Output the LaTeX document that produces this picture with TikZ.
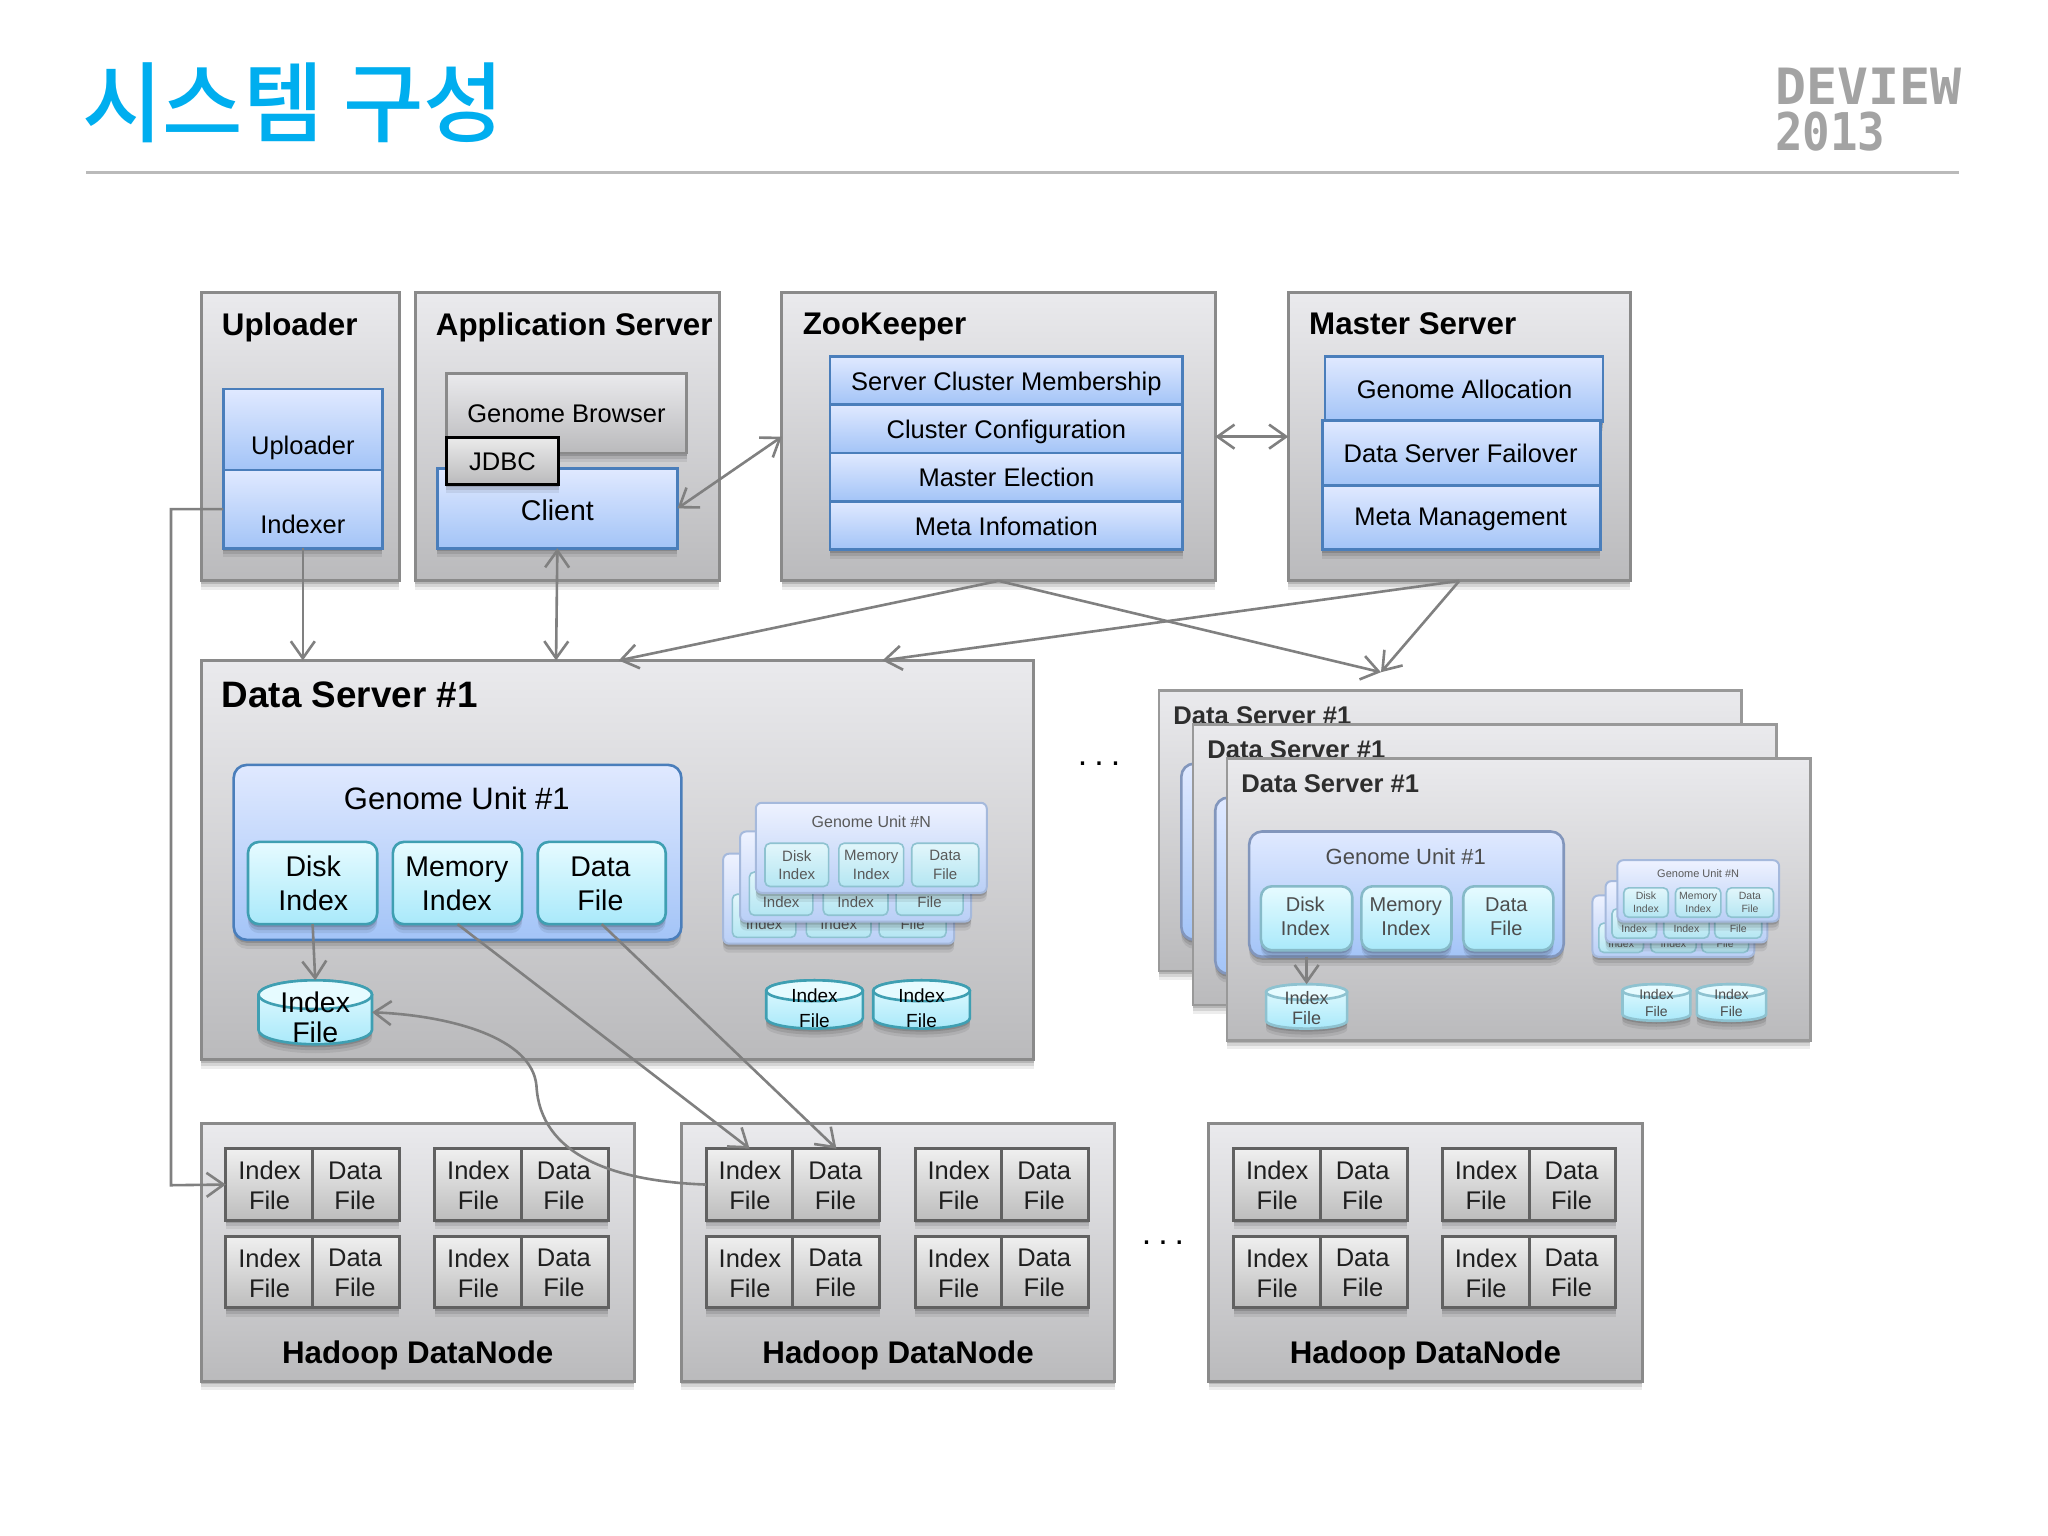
\documentclass[tikz,border=0pt]{standalone}
\usepackage{fontspec}
\usepackage{graphicx}
\setmainfont{Liberation Sans}
\newfontfamily\krfont{Noto Sans CJK KR Medium}
\newfontfamily\monofnt{DejaVu Sans Mono}
\usetikzlibrary{shadows,arrows.meta,calc}
\definecolor{bigTop}{HTML}{EAEAED}
\definecolor{bigBot}{HTML}{BABABC}
\definecolor{bigEdge}{HTML}{8A8A8A}
\definecolor{blueTop}{HTML}{E0E9FF}
\definecolor{blueBot}{HTML}{A3C4F7}
\definecolor{blueEdge}{HTML}{4A7EBB}
\definecolor{cyanTop}{HTML}{E6FBFF}
\definecolor{cyanBot}{HTML}{A9E9FA}
\definecolor{cyanEdge}{HTML}{3F9FB2}
\definecolor{paleTop}{HTML}{EEF2FF}
\definecolor{paleBot}{HTML}{B9CFF6}
\definecolor{paleEdge}{HTML}{A5B9DC}
\definecolor{paleCTop}{HTML}{E2F6FB}
\definecolor{paleCBot}{HTML}{B4E6F2}
\definecolor{paleCEdge}{HTML}{8EC2D0}
\definecolor{titleBlue}{HTML}{00AEEF}
\definecolor{farBlueEdge}{HTML}{8296BC}
\definecolor{farCyanEdge}{HTML}{86BAC8}
\colorlet{cylEdge}{cyanEdge}
\tikzset{
  x=1.3053pt,y=-1.3053pt,
  every node/.style={inner sep=0pt,outer sep=0pt},
  shad/.style={
    drop shadow={shadow xshift=0pt,shadow yshift=-9pt,opacity=.07,fill=black},
    drop shadow={shadow xshift=0pt,shadow yshift=-6pt,opacity=.10,fill=black},
    drop shadow={shadow xshift=0pt,shadow yshift=-3pt,opacity=.14,fill=black}},
  bigbox/.style={rectangle,draw=bigEdge,line width=3pt,top color=bigTop,bottom color=bigBot,shad},
  farbig/.style={bigbox,draw=black!40,line width=2.6pt},
  bluebox/.style={rectangle,draw=blueEdge,line width=2.6pt,top color=blueTop,bottom color=blueBot,shad},
  blueround/.style={bluebox,rounded corners=13pt},
  farround/.style={blueround,draw=farBlueEdge},
  cyanbox/.style={rectangle,rounded corners=11pt,draw=cyanEdge,line width=2.6pt,top color=cyanTop,bottom color=cyanBot,shad},
  farcyan/.style={cyanbox,draw=farCyanEdge},
  graybox/.style={rectangle,draw=bigEdge,line width=2.6pt,top color=bigTop,bottom color=bigBot,shad},
  jdbcbox/.style={rectangle,draw=black,line width=2.6pt,top color=white!92!black,bottom color=bigBot,shad},
  cellbox/.style={rectangle,draw=black!62,line width=3pt,top color=white!94!black,bottom color=white!74!black,shad},
  paleunit/.style={rectangle,rounded corners=6pt,draw=paleEdge,line width=2pt,top color=paleTop,bottom color=paleBot,shad},
  palecard/.style={rectangle,rounded corners=5pt,draw=paleCEdge,line width=1.6pt,top color=paleCTop,bottom color=paleCBot},
  head/.style={anchor=west,text depth=0pt,font=\fontsize{31.3}{38}\selectfont\bfseries},
  headbig/.style={anchor=west,font=\fontsize{36.8}{42}\selectfont\bfseries},
  headfar/.style={anchor=west,text=black!82,font=\fontsize{25.6}{30}\selectfont\bfseries},
  dnhead/.style={text depth=0pt,font=\fontsize{31.3}{38}\selectfont\bfseries},
  lab/.style={align=center,text depth=0pt,font=\fontsize{25.5}{31}\selectfont},
  labc/.style={align=center,font=\fontsize{28.5}{34}\selectfont},
  labcyl/.style={align=center,font=\fontsize{28.5}{30}\selectfont},
  labg/.style={align=center,font=\fontsize{31}{37}\selectfont},
  labcell/.style={align=center,font=\fontsize{25.5}{30}\selectfont,text=black!88},
  labfar/.style={align=center,text=black!70,font=\fontsize{20}{24}\selectfont},
  labfarg/.style={align=center,text=black!70,text depth=0pt,font=\fontsize{22}{27}\selectfont},
  labsmall/.style={align=center,font=\fontsize{19}{25}\selectfont},
  labfarcyl/.style={align=center,text=black!70,font=\fontsize{18}{20}\selectfont},
  labfarsm/.style={align=center,text=black!70,font=\fontsize{14}{17}\selectfont},
  conn/.style={draw=black!50,line width=2.6pt,>={Straight Barb[length=17pt,width=24pt]}},
  dots/.style={font=\fontsize{34}{36}\selectfont},
}
% name x1 y1 x2 y2 style
\newcommand\bx[6]{%
  \pgfmathsetmacro\bw{((#4)-(#2))*1.3053}%
  \pgfmathsetmacro\bh{((#5)-(#3))*1.3053}%
  \node[#6,minimum width=\bw pt,minimum height=\bh pt] (#1) at ({((#2)+(#4))/2},{((#3)+(#5))/2}) {};}
% name x y style text
\newcommand\tx[5]{\node[#4] (#1) at (#2,#3) {#5};}
% name x1 y1 x2 y2 ry textY fontstyle text
\newcommand\cyl[9]{%
  \pgfmathsetmacro\cxa{#2}\pgfmathsetmacro\cxb{#4}\pgfmathsetmacro\cya{#3}\pgfmathsetmacro\cyb{#5}%
  \pgfmathsetmacro\crx{(\cxb-\cxa)/2}\pgfmathsetmacro\cry{#6}%
  \draw[draw=cylEdge,line width=2.6pt,top color=cyanTop,bottom color=cyanBot,shad]
    (\cxa,\cya+\cry) -- (\cxa,\cyb-\cry) arc[start angle=180,end angle=0,x radius=\crx,y radius=\cry]
    -- (\cxb,\cya+\cry) arc[start angle=360,end angle=180,x radius=\crx,y radius=\cry] -- cycle;
  \draw[draw=cylEdge,line width=2.6pt,fill=cyanTop] ({\cxa+\crx},\cya+\cry) ellipse[x radius=\crx,y radius=\cry];
  \bx{#1}{#2}{#3}{#4}{#5}{rectangle}
  \tx{#1T}{{(\cxa+\cxb)/2}}{#7}{#8}{#9}}
% cards of a genome-unit thumbnail: name x y w h
\newcommand\minicards[5]{%
  \pgfmathsetmacro\ux{#2}\pgfmathsetmacro\uy{#3}\pgfmathsetmacro\uw{#4}\pgfmathsetmacro\uh{#5}%
  \bx{#1}{\ux}{\uy}{\ux+\uw}{\uy+\uh}{paleunit}
  \bx{#1a}{\ux+.04*\uw}{\uy+.45*\uh}{\ux+.315*\uw}{\uy+.93*\uh}{palecard}
  \bx{#1b}{\ux+.36*\uw}{\uy+.45*\uh}{\ux+.64*\uw}{\uy+.93*\uh}{palecard}
  \bx{#1c}{\ux+.675*\uw}{\uy+.45*\uh}{\ux+.965*\uw}{\uy+.93*\uh}{palecard}}
% front thumbnail: name x y w h titlesize cardsize
\newcommand\miniunit[7]{%
  \minicards{#1}{#2}{#3}{#4}{#5}%
  \pgfmathsetmacro\ul{#7*1.2}%
  \node[text=black!65,font=\fontsize{#6}{#6}\selectfont] (#1t) at ({\ux+.5*\uw},{\uy+.21*\uh}) {Genome Unit \#N};
  \node[align=center,text=black!65,font=\fontsize{#7}{\ul}\selectfont] (#1at) at (#1a) {Disk\\Index};
  \node[align=center,text=black!65,font=\fontsize{#7}{\ul}\selectfont] (#1bt) at (#1b) {Memory\\Index};
  \node[align=center,text=black!65,font=\fontsize{#7}{\ul}\selectfont] (#1ct) at (#1c) {Data\\File};}
% back thumbnail, only the lower text lines show: name x y w h cardsize
\newcommand\miniback[6]{%
  \minicards{#1}{#2}{#3}{#4}{#5}%
  \pgfmathsetmacro\lny{\uy+.69*\uh+#6*.42}%
  \node[text=black!65,font=\fontsize{#6}{#6}\selectfont] (#1at) at (#1a |- 0,\lny) {Index};
  \node[text=black!65,font=\fontsize{#6}{#6}\selectfont] (#1bt) at (#1b |- 0,\lny) {Index};
  \node[text=black!65,font=\fontsize{#6}{#6}\selectfont] (#1ct) at (#1c |- 0,\lny) {File};}
\begin{document}
\begin{tikzpicture}
\useasboundingbox (0,0) rectangle (1569,1176.7);
\fill[white] (0,0) rectangle (1569,1176.7);
% header
\node[anchor=west,text=titleBlue,font=\krfont\fontsize{87.5}{96}\selectfont] (title) at (63,79) {시스템 구성};
\coordinate (ruleA) at (66,132); \coordinate (ruleB) at (1501,132);
\draw[draw=black!27,line width=2.4pt] (ruleA) -- (ruleB);
\node[anchor=west,text=black!36,font=\monofnt\bfseries\fontsize{50}{50}\selectfont] (dev) at (1360,66) {\scalebox{1.03}[1]{DEVIEW}};
\node[anchor=west,text=black!36,font=\monofnt\bfseries\fontsize{52}{52}\selectfont] (yr) at (1360,101) {\scalebox{.88}[1]{2013}};
% top row
\bx{upl}{154}{224}{306}{445}{bigbox}
\tx{uplH}{170}{248}{head}{Uploader}
\bx{uplA}{171}{298}{293}{360}{bluebox}
\tx{uplAt}{232}{341}{lab}{Uploader}
\bx{idx}{171}{360}{293}{420}{bluebox}
\tx{idxt}{232}{402}{lab}{Indexer}
\bx{app}{318}{224}{551}{445}{bigbox}
\tx{appH}{334}{248}{head}{Application Server}
\bx{gb}{342}{286}{526}{347}{graybox}
\tx{gbt}{434}{317}{lab}{Genome Browser}
\bx{client}{335}{359}{519}{420}{bluebox}
\tx{clientt}{427}{391}{labc}{Client}
\bx{jdbc}{342}{335}{428}{371}{jdbcbox}
\tx{jdbct}{385}{354}{lab}{JDBC}
\bx{zk}{599}{224}{931}{445}{bigbox}
\tx{zkH}{615}{248}{head}{ZooKeeper}
\bx{zka}{636}{273}{906}{310}{bluebox}\tx{zkat}{771}{292}{lab}{Server Cluster Membership}
\bx{zkb}{636}{310}{906}{347}{bluebox}\tx{zkbt}{771}{329}{lab}{Cluster Configuration}
\bx{zkc}{636}{347}{906}{384}{bluebox}\tx{zkct}{771}{366}{lab}{Master Election}
\bx{zkd}{636}{384}{906}{421}{bluebox}\tx{zkdt}{771}{403}{lab}{Meta Infomation}
\bx{ms}{987}{224}{1249}{445}{bigbox}
\tx{msH}{1003}{248}{head}{Master Server}
\bx{msa}{1015}{273}{1228}{323}{bluebox}\tx{msat}{1122}{298}{lab}{Genome Allocation}
\bx{msb}{1013}{322}{1226}{372}{bluebox}\tx{msbt}{1119}{347}{lab}{Data Server Failover}
\bx{msc}{1013}{372}{1226}{421}{bluebox}\tx{msct}{1119}{396}{lab}{Meta Management}
% data server 1
\bx{ds}{154}{506}{792}{812}{bigbox}
\tx{dsH}{170}{532}{headbig}{Data Server \#1}
\bx{gu}{179}{586}{522}{720}{blueround}
\tx{gut}{350}{612}{labg}{Genome Unit \#1}
\bx{disk}{190}{645}{289}{708}{cyanbox}\tx{diskt}{240}{677}{labc}{Disk\\Index}
\bx{mem}{301}{645}{400}{708}{cyanbox}\tx{memt}{350}{677}{labc}{Memory\\Index}
\bx{dat}{412}{645}{510}{708}{cyanbox}\tx{datt}{460}{677}{labc}{Data\\File}
\cyl{ixf}{198}{751}{285}{800}{11}{779.5}{labcyl}{Index\\File}
\miniback{sA}{554}{654}{177}{69}{15}
\miniback{sB}{567}{637}{177}{69}{15}
\miniunit{sC}{579}{615}{177}{69}{16}{15}
\cyl{ixg}{587}{751}{661}{788}{8}{772.5}{labsmall}{Index\\File}
\cyl{ixh}{669}{751}{743}{788}{8}{772.5}{labsmall}{Index\\File}
% right stack
\bx{fa}{888}{529}{1334}{744}{farbig}
\tx{faH}{899}{548}{headfar}{Data Server \#1}
\bx{faU}{905}{585}{1100}{720}{farround}
\bx{fb}{914}{555}{1361}{770}{farbig}
\tx{fbH}{925}{574}{headfar}{Data Server \#1}
\bx{fbU}{931}{611}{1126}{746}{farround}
\bx{fc}{940}{581}{1387}{797}{farbig}
\tx{fcH}{951}{600}{headfar}{Data Server \#1}
\bx{fgu}{957}{637}{1198}{733}{farround}
\tx{fgut}{1077}{656}{labfarg}{Genome Unit \#1}
\bx{fdisk}{966}{679}{1036}{728}{farcyan}\tx{fdiskt}{1000}{702}{labfar}{Disk\\Index}
\bx{fmem}{1043}{679}{1112}{728}{farcyan}\tx{fmemt}{1077}{702}{labfar}{Memory\\Index}
\bx{fdat}{1121}{679}{1190}{728}{farcyan}\tx{fdatt}{1154}{702}{labfar}{Data\\File}
\colorlet{cylEdge}{paleCEdge}
\cyl{fix}{970}{754}{1032}{788}{6}{772.5}{labfarcyl}{Index\\File}
\miniback{tA}{1220}{686}{124}{47}{10.5}
\miniback{tB}{1230}{675}{124}{47}{10.5}
\miniunit{tC}{1239}{659}{124}{47}{11}{10.5}
\cyl{fig}{1243}{754}{1295}{782}{5}{768.5}{labfarsm}{Index\\File}
\cyl{fih}{1300}{754}{1353}{782}{5}{768.5}{labfarsm}{Index\\File}
\draw[conn,->] (fgu.south -| fix) -- (fix.north);
% ellipses
\node[dots] (ell1) at (842,585) {.\hspace{7pt}.\hspace{7pt}.};
\node[dots] (ell2) at (891,952) {.\hspace{7pt}.\hspace{7pt}.};
% datanodes
\foreach \n/\ox in {a/154,b/522,c/926}{
  \pgfmathsetmacro\xx{\ox+332}
  \bx{dn\n}{\ox}{861}{\xx}{1058}{bigbox}
  \pgfmathsetmacro\xc{\ox+166}
  \tx{dn\n H}{\xc}{1036}{dnhead}{Hadoop DataNode}
}
\foreach \n/\gx in {a/173,b/541,c/945}{
  \foreach \r/\ry in {1/880,2/947}{
    \foreach \c/\off in {1/0,2/160}{
      \pgfmathsetmacro\gxa{\gx+\off}
      \pgfmathsetmacro\gxb{\gxa+66.5}
      \pgfmathsetmacro\gxc{\gxa+133}
      \pgfmathsetmacro\gyb{\ry+55}
      \pgfmathsetmacro\gym{\ry+28.5}
      \pgfmathsetmacro\txa{\gxa+33.5}
      \pgfmathsetmacro\txb{\gxb+32.5}
      \bx{dn\n\r\c i}{\gxa}{\ry}{\gxb}{\gyb}{cellbox}
      \bx{dn\n\r\c d}{\gxb}{\ry}{\gxc}{\gyb}{cellbox}
      \tx{dn\n\r\c it}{\txa}{\gym}{labcell}{Index\\File}
      \tx{dn\n\r\c dt}{\txb}{\gym}{labcell}{Data\\File}
    }
  }
}
% connectors
\coordinate (dsUp) at (232,506);
\coordinate (dsCl) at (426,506);
\coordinate (dsZk) at (474,506);
\coordinate (dsMs) at (676,506);
\coordinate (farTop) at (1058,515);
\coordinate (turnA) at (131,390);
\coordinate (turnB) at (131,908);
\coordinate (curveMid) at (411,832);
\draw[conn,->] (idx.south) -- (dsUp);
\draw[conn,<->] (client.south) -- (dsCl);
\draw[conn,<->] (client.east) -- (zk.west);
\draw[conn,<->] (zk.east) -- (ms.west);
\draw[conn,->] (zk.south) -- (dsZk);
\draw[conn,->] (zk.south) -- (farTop);
\draw[conn,->] (ms.south) -- (dsMs);
\draw[conn,->] (ms.south) -- (farTop);
\draw[conn,->] (idx.west) -- (turnA) -- (turnB) -- (dna11i.west);
\draw[conn,->] (disk.south) -- (ixf.north);
\draw[conn,->] (mem.south) -- (dnb11i.north);
\draw[conn,->] (dat.south) -- (dnb11d.north);
\draw[conn,->] (dnb11i.west) .. controls (470,905) and (414,885) .. (curveMid) .. controls (408,795) and (345,778) .. (ixf.east);
\end{tikzpicture}
\end{document}
